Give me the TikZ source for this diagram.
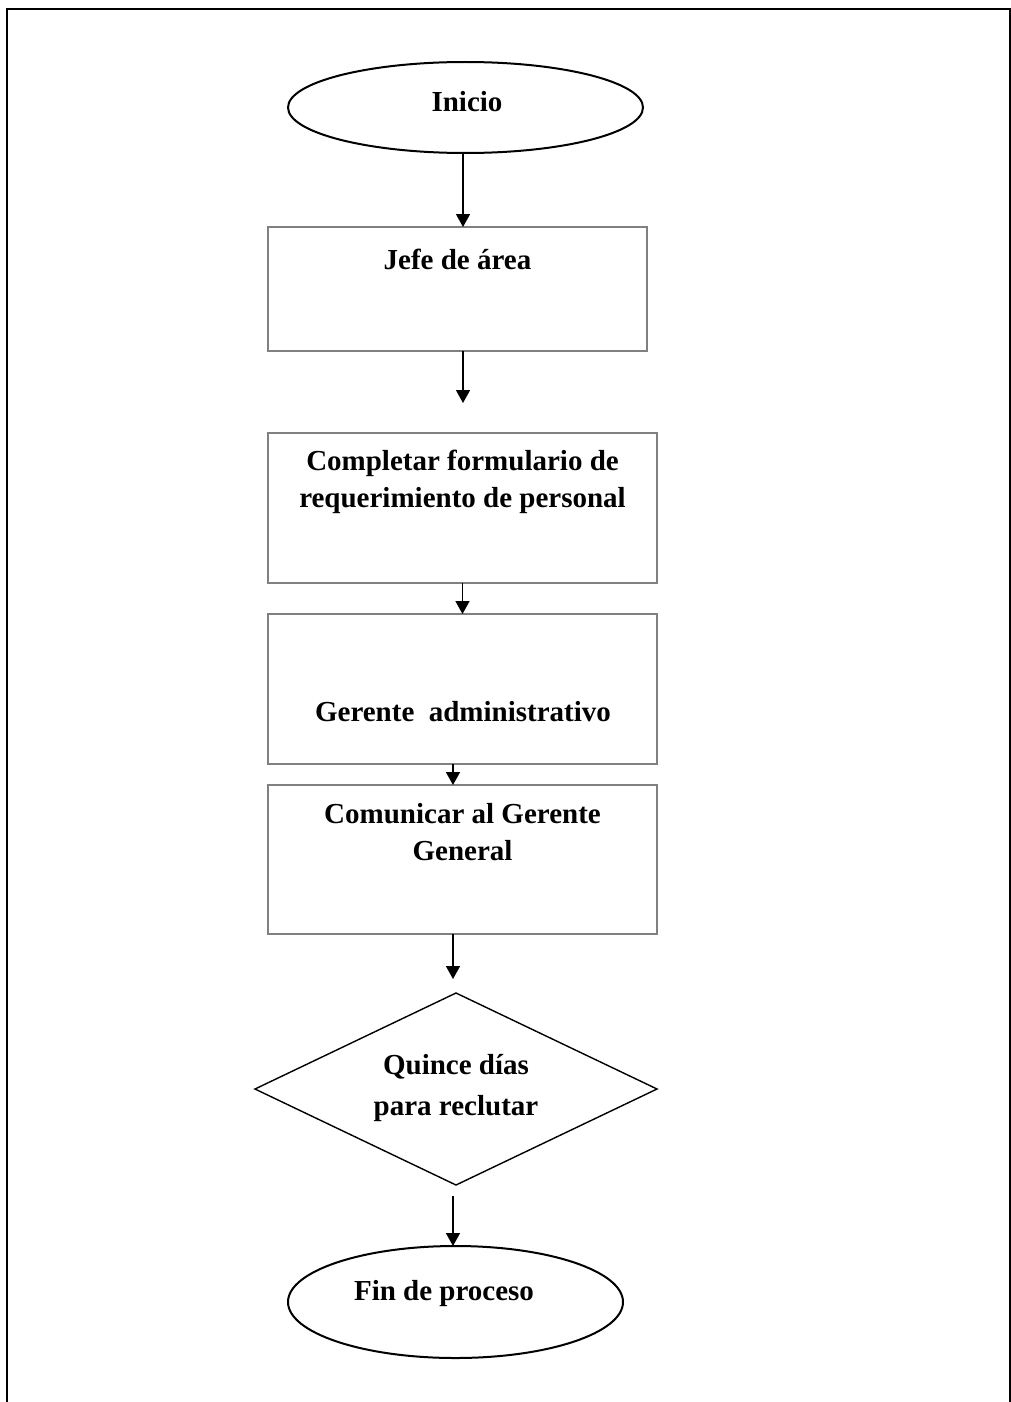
\documentclass[tikz,border=0pt]{standalone}
\usepackage{fontspec}
\setmainfont{Liberation Serif}
\usetikzlibrary{shapes.geometric,arrows.meta}

\begin{document}
\begin{tikzpicture}[x=1pt,y=-1pt,
  every node/.style={inner sep=0pt,outer sep=0pt},
  txt/.style={font=\fontsize{29}{37}\selectfont\bfseries,align=center},
  term/.style={draw=black,line width=2pt,ellipse},
  stepbox/.style={draw=black!50,line width=2.2pt,rectangle},
  decide/.style={draw=black,line width=1.4pt,diamond},
  arr/.style={line width=1.5pt,-{Triangle[length=13pt,width=14pt]}},
  frame/.style={line width=2pt}]

  \useasboundingbox (0,0) rectangle (1011,1402);

  % page frame, open at the bottom
  \coordinate (fl) at (7,1402);
  \coordinate (ftl) at (7,9);
  \coordinate (ftr) at (1010,9);
  \coordinate (fr) at (1010,1402);
  \draw[frame] (fl) -- (ftl) -- (ftr) -- (fr);

  % shapes
  \node[term,minimum width=355pt,minimum height=91pt] (inicio) at (465.5,107.5) {};
  \node[stepbox,minimum width=379pt,minimum height=124pt] (b1) at (457.5,289) {};
  \node[stepbox,minimum width=389pt,minimum height=150pt] (b2) at (462.5,508) {};
  \node[stepbox,minimum width=389pt,minimum height=150pt] (b3) at (462.5,689) {};
  \node[stepbox,minimum width=389pt,minimum height=149pt] (b4) at (462.5,859.5) {};
  \node[decide,minimum width=402pt,minimum height=192pt] (dec) at (456,1089) {};
  \node[term,minimum width=335pt,minimum height=112pt] (fin) at (455.5,1302) {};

  % labels
  \node[txt] (tinicio) at (467,102) {Inicio};
  \node[txt] (tb1) at (457.5,259) {Jefe de área};
  \node[txt] (tb2) at (462.5,482) {Completar formulario de\\requerimiento de personal};
  \node[txt] (tb3) at (463,712) {Gerente~~administrativo};
  \node[txt] (tb4) at (462.5,832) {Comunicar al Gerente\\General};
  \node[txt] (tdec) at (456,1088) {Quince días\\[4pt]para reclutar};
  \node[txt] (tfin) at (444,1294) {Fin de proceso};

  % free arrow ends
  \coordinate (e2) at (463,403);
  \coordinate (e5) at (453,979);
  \coordinate (s6) at (453,1196);

  % connectors
  \draw[arr] ([xshift=-2.5]inicio.south) -- ([xshift=5.5]b1.north);
  \draw[arr] ([xshift=5.5]b1.south) -- (e2);
  \draw[arr] (b2.south) -- (b3.north);
  \draw[arr] ([xshift=-9.5]b3.south) -- ([xshift=-9.5]b4.north);
  \draw[arr] ([xshift=-9.5]b4.south) -- (e5);
  \draw[arr] (s6) -- ([xshift=-2.5]fin.north);
\end{tikzpicture}
\end{document}
